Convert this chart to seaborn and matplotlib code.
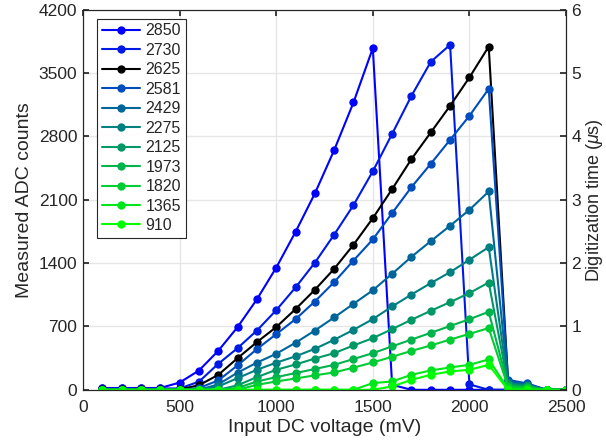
import matplotlib
matplotlib.use("Agg")
import matplotlib.pyplot as plt
import pandas as pd
import seaborn as sns

# input voltage (mV), one point every 100 mV
voltages = list(range(100, 2600, 100))

# legend labels, top to bottom
series_names = ["2850", "2730", "2625", "2581", "2429", "2275", "2125", "1973", "1820", "1365", "910"]

s2850 = [20, 20, 20, 20, 80, 213, 431, 693, 1000, 1350, 1745, 2170, 2649, 3176, 3776, 55, 0, 0, 0, 0, 0, 0, 0, 0, 0]
s2730 = [15, 15, 15, 15, 15, 90, 287, 461, 655, 880, 1131, 1405, 1715, 2041, 2415, 2829, 3249, 3625, 3813, 60, 0, 0, 0, 0, 0]
s2625 = [5, 5, 5, 5, 5, 50, 165, 350, 527, 693, 892, 1105, 1337, 1603, 1897, 2218, 2550, 2844, 3139, 3452, 3794, 100, 60, 0, 0]
s2581 = [0, 0, 0, 0, 0, 20, 103, 270, 450, 615, 781, 976, 1190, 1429, 1662, 1953, 2240, 2498, 2763, 3028, 3327, 110, 70, 0, 0]
s2429 = [0, 0, 0, 0, 0, 0, 60, 190, 300, 398, 520, 655, 800, 950, 1100, 1282, 1470, 1643, 1813, 1989, 2192, 90, 55, 0, 0]
s2275 = [0, 0, 0, 0, 0, 0, 37, 129, 221, 300, 370, 453, 553, 663, 781, 921, 1053, 1179, 1300, 1437, 1577, 75, 50, 0, 0]
s2125 = [0, 0, 0, 0, 0, 0, 0, 50, 140, 221, 280, 345, 405, 490, 571, 671, 774, 873, 969, 1069, 1186, 60, 40, 0, 0]
s1973 = [0, 0, 0, 0, 0, 0, 0, 20, 92, 140, 185, 230, 276, 340, 405, 480, 555, 630, 705, 780, 862, 45, 30, 0, 0]
s1820 = [0, 0, 0, 0, 0, 0, 0, 0, 55, 92, 125, 160, 192, 245, 302, 365, 430, 490, 555, 618, 682, 30, 20, 0, 0]
s1365 = [0] * 14 + [74, 92, 166, 214, 247, 276, 336, 10, 5, 0, 0]
s910 = [0] * 15 + [37, 110, 166, 203, 221, 276, 0, 0, 0, 0]

counts = [s2850, s2730, s2625, s2581, s2429, s2275, s2125, s1973, s1820, s1365, s910]

colors = [
    (0.0, 0.0, 1.0),
    (0.0, 0.1, 0.9),
    (0.0, 0.0, 0.0),
    (0.0, 0.3, 0.75),
    (0.0, 0.4, 0.6),
    (0.0, 0.5, 0.5),
    (0.0, 0.6, 0.4),
    (0.0, 0.7, 0.3),
    (0.0, 0.8, 0.2),
    (0.0, 0.9, 0.1),
    (0.0, 1.0, 0.0),
]

rows = []
for name, vals in zip(series_names, counts):
    for v, c in zip(voltages, vals):
        rows.append({"voltage": v, "counts": c, "series": name})
df = pd.DataFrame(rows)

sns.set_theme(style="whitegrid")
plt.rcParams["font.family"] = ["Liberation Sans", "DejaVu Sans"]
plt.rcParams["mathtext.fontset"] = "custom"
plt.rcParams["mathtext.it"] = "Liberation Sans:italic"
plt.rcParams["mathtext.rm"] = "Liberation Sans"

fig = plt.figure(figsize=(6.06, 4.46), dpi=100)
ax = fig.add_axes([0.137, 0.126, 0.797, 0.852])

sns.lineplot(
    data=df, x="voltage", y="counts", hue="series",
    hue_order=series_names, palette=dict(zip(series_names, colors)),
    marker="o", markersize=6, markeredgewidth=0, linewidth=1.5,
    estimator=None, sort=False, ax=ax,
)

ax.set_xlim(0, 2500)
ax.set_ylim(0, 4200)
ax.set_xticks([0, 500, 1000, 1500, 2000, 2500])
ax.set_yticks(range(0, 4201, 700))
ax.set_xlabel("Input DC voltage (mV)", fontsize=14, labelpad=3)
ax.set_ylabel("Measured ADC counts", fontsize=14, labelpad=4)
ax.tick_params(axis="both", labelsize=12.5, direction="in", length=4,
               colors="#262626", top=True, pad=4)
ax.tick_params(axis="x", pad=7)
ax.grid(True, color="#e6e6e6", linewidth=1)
for sp in ax.spines.values():
    sp.set_color("#262626")
    sp.set_linewidth(0.8)

leg = ax.legend(loc="upper left", fontsize=11.5, frameon=True, fancybox=False,
                edgecolor="#262626", framealpha=1, handlelength=2.4,
                labelspacing=0.28, borderpad=0.3, handletextpad=0.35,
                borderaxespad=0, bbox_to_anchor=(0.029, 0.977))
leg.get_frame().set_linewidth(0.8)

ax2 = ax.twinx()
ax2.set_ylim(0, 6)
ax2.set_yticks(range(0, 7))
ax2.grid(False)
ax2.set_ylabel(r"Digitization time ($\mu$s)", fontsize=13, labelpad=2)
ax2.tick_params(axis="y", labelsize=12.5, direction="in", length=4,
                colors="#262626", pad=4)
for sp in ax2.spines.values():
    sp.set_color("#262626")
    sp.set_linewidth(0.8)

fig.savefig("out.png", dpi=100)
